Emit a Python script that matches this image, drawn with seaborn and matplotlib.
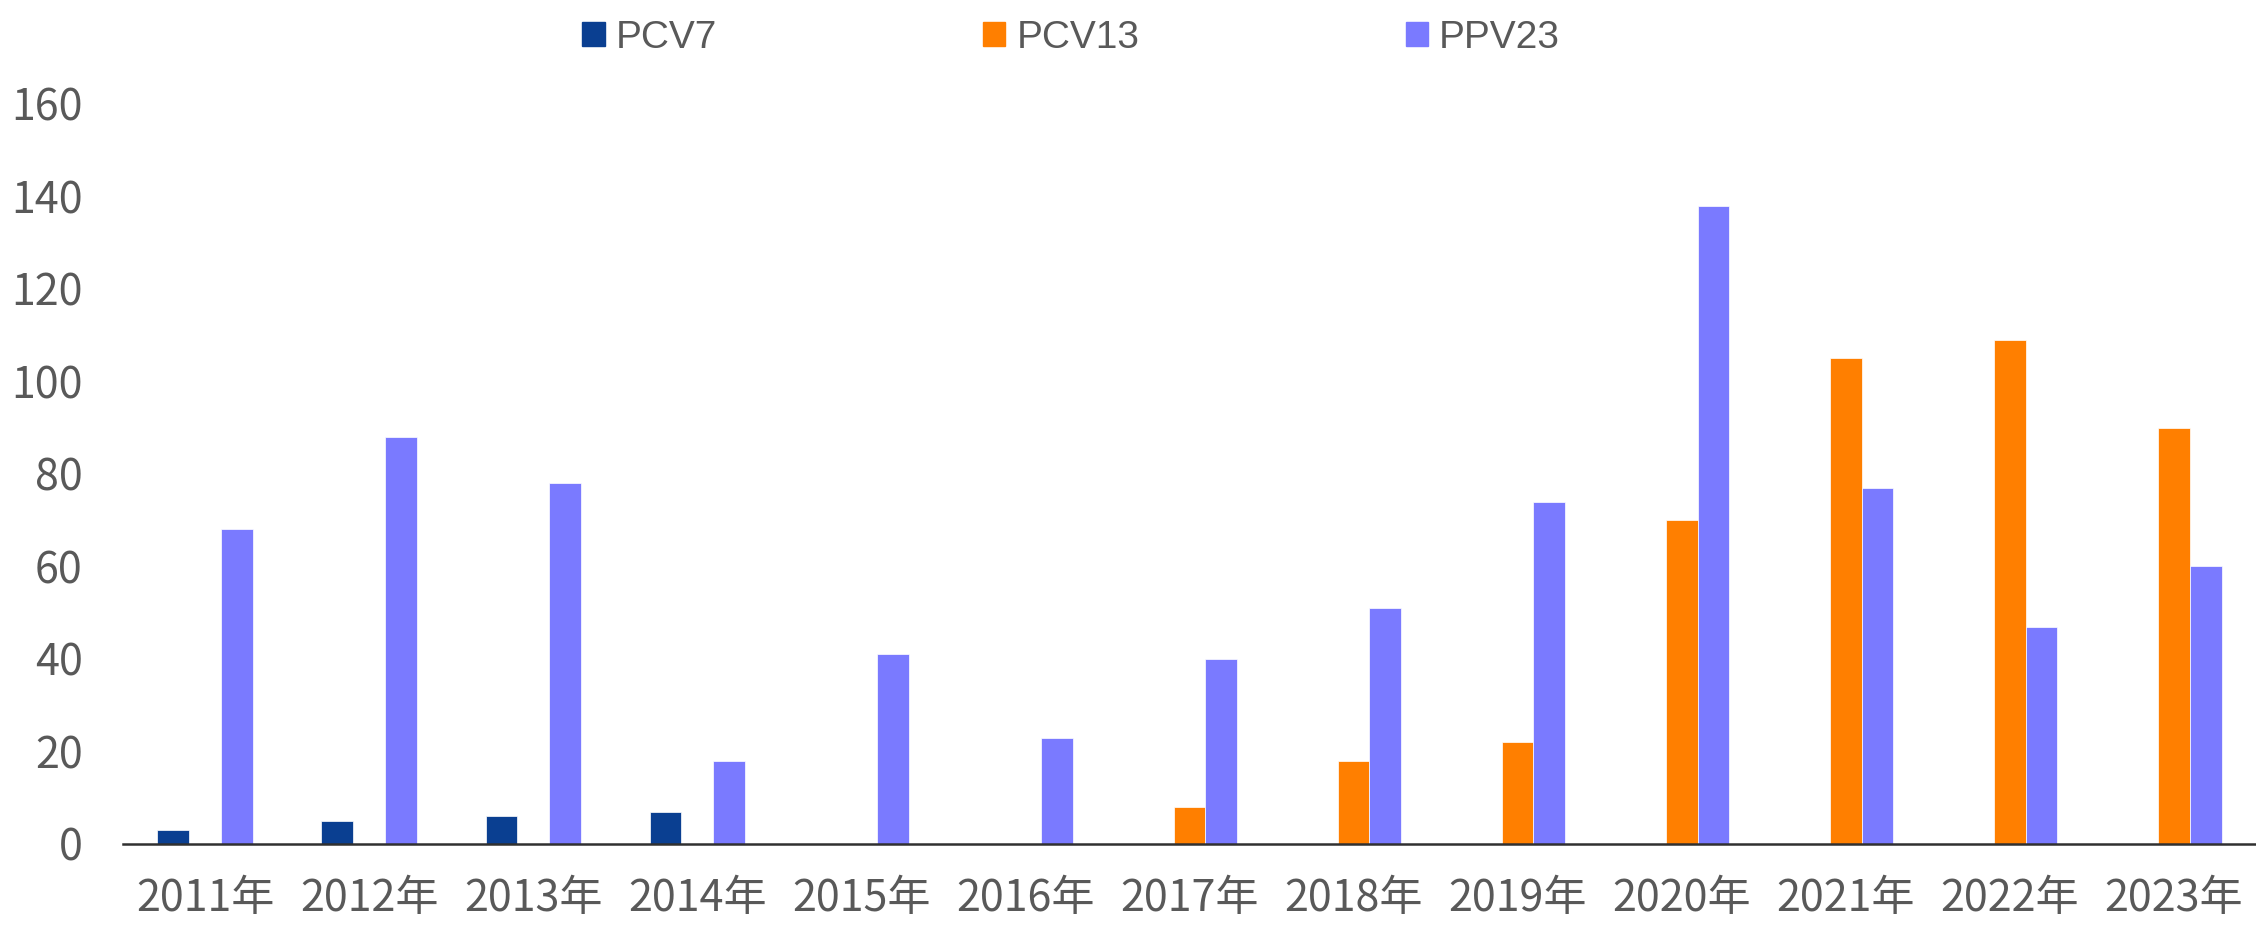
import numpy as np
import pandas as pd
import matplotlib
matplotlib.use("Agg")
import matplotlib.pyplot as plt
import seaborn as sns

# ------------------------------
# Data
# ------------------------------
years = ["2011年", "2012年", "2013年", "2014年", "2015年", "2016年", "2017年",
         "2018年", "2019年", "2020年", "2021年", "2022年", "2023年"]
pcv7 = [3, 5, 6, 7, 0, 0, 0, 0, 0, 0, 0, 0, 0]
pcv13 = [0, 0, 0, 0, 0, 0, 8, 18, 22, 70, 105, 109, 90]
ppv23 = [68, 88, 78, 18, 41, 23, 40, 51, 74, 138, 77, 47, 60]
series_names = ["PCV7", "PCV13", "PPV23"]
colors = ["#0A3F91", "#FF7F00", "#7A7AFF"]

df = pd.DataFrame({
    "year": years * 3,
    "series": np.repeat(series_names, len(years)),
    "value": pcv7 + pcv13 + ppv23,
})

# ------------------------------
# Style
# ------------------------------
sns.set_theme(style="white")
plt.rcParams["font.family"] = ["Noto Sans CJK SC", "DejaVu Sans"]
text_color = "#595959"

fig = plt.figure(figsize=(22.56, 9.25), dpi=100)
ax = fig.add_axes([0.0545, 0.0876, 0.9455, 0.8])

sns.barplot(data=df, x="year", y="value", hue="series", hue_order=series_names,
            palette=colors, width=0.58, saturation=1, ax=ax,
            edgecolor="white", linewidth=0.5, legend=False)

ax.set_ylim(0, 160)
ax.set_xlim(-0.5, len(years) - 0.5)
ax.set_yticks(range(0, 161, 20))
ax.set_xlabel("")
ax.set_ylabel("")

for side in ["top", "right", "left"]:
    ax.spines[side].set_visible(False)
ax.spines["bottom"].set_color("#303030")
ax.spines["bottom"].set_linewidth(1.8)

# tick marks at category boundaries, labels centred
ax.set_xticks(np.arange(-0.5, len(years), 1.0), minor=True)
ax.tick_params(axis="x", which="minor", length=9.5, width=1.5, color="black", direction="out")
ax.tick_params(axis="x", which="major", length=0, pad=24, labelsize=31, labelcolor=text_color)
ax.tick_params(axis="y", length=0, pad=29, labelsize=31, labelcolor=text_color)

# legend across the top
handles = [plt.Rectangle((0, 0), 1, 1, color=c) for c in colors]
leg = fig.legend(handles, series_names, loc="upper center", bbox_to_anchor=(0.4748, 1.016),
                 ncol=3, frameon=False, labelcolor=text_color,
                 prop={"family": "Liberation Sans", "size": 28},
                 handlelength=0.57, handleheight=0.57, handletextpad=0.28, columnspacing=6.85)

fig.savefig("out.png", dpi=100)
